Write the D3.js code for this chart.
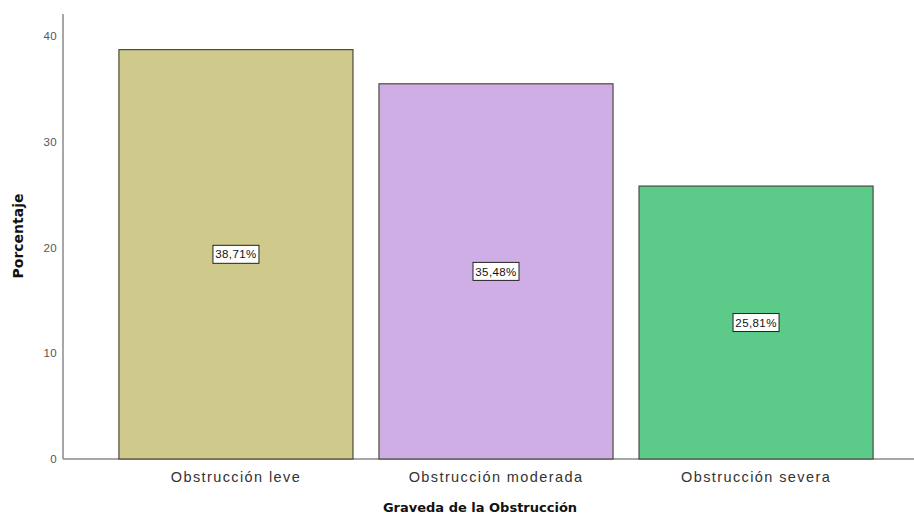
<!DOCTYPE html>
<html><head><meta charset="utf-8">
<script src="https://cdn.jsdelivr.net/npm/d3@7"></script>
<style>body{margin:0;background:#fff}svg{display:block}</style>
</head><body><svg id="c" width="914" height="522"></svg>
<script>
const categories = ["Obstrucción leve", "Obstrucción moderada", "Obstrucción severa"];
const values = [38.71, 35.48, 25.81];
const valueLabels = ["38,71%", "35,48%", "25,81%"];
const colors = ["#cfc98b", "#cfaee6", "#5ccb89"];
const yTicks = [0, 10, 20, 30, 40];
const xTitle = "Graveda de la Obstrucción";
const yTitle = "Porcentaje";

const svg = d3.select("#c");
const y = d3.scaleLinear().domain([0, 42.08]).range([459, 14]);
const x = d3.scaleBand().domain(categories).range([95, 897]).paddingInner(0.1).paddingOuter(0.092);

// axes lines
svg.append("line").attr("x1", 63).attr("x2", 914).attr("y1", y(0)).attr("y2", y(0))
  .attr("stroke", "#8a8a8a").attr("stroke-width", 1.5);
svg.append("line").attr("x1", 63).attr("x2", 63).attr("y1", y(0)).attr("y2", y.range()[1])
  .attr("stroke", "#8a8a8a").attr("stroke-width", 1.5);

// y tick labels
svg.append("g").selectAll("text").data(yTicks).join("text")
  .attr("x", 57).attr("y", d => y(d)).attr("dy", "0.35em").attr("text-anchor", "end")
  .attr("font-family", "Liberation Sans, Arial, sans-serif").attr("font-size", 11.5).attr("fill", "#555")
  .attr("letter-spacing", 0.3)
  .text(d => d);

// bars
svg.append("g").selectAll("rect").data(values).join("rect")
  .attr("x", (d, i) => x(categories[i])).attr("width", x.bandwidth())
  .attr("y", d => y(d)).attr("height", d => y(0) - y(d))
  .attr("fill", (d, i) => colors[i]).attr("stroke", "#4d4a3c").attr("stroke-width", 1.2);

// value labels
const lg = svg.append("g").selectAll("g").data(values).join("g")
  .attr("transform", (d, i) => `translate(${x(categories[i]) + x.bandwidth() / 2},${(y(d) + y(0)) / 2})`);
lg.append("rect").attr("x", -23).attr("y", -9).attr("width", 46).attr("height", 18)
  .attr("fill", "#fff").attr("stroke", "#222").attr("stroke-width", 1);
lg.append("text").attr("text-anchor", "middle").attr("dy", "0.36em")
  .attr("font-family", "Liberation Sans, Arial, sans-serif").attr("font-size", 11.5).attr("fill", "#111")
  .attr("letter-spacing", 0.4)
  .text((d, i) => valueLabels[i]);

// category labels
svg.append("g").selectAll("text").data(categories).join("text")
  .attr("x", d => x(d) + x.bandwidth() / 2).attr("y", 477).attr("dy", "0.35em")
  .attr("text-anchor", "middle").attr("font-family", "Liberation Sans, Arial, sans-serif")
  .attr("font-size", 14.5).attr("letter-spacing", 1.4).attr("fill", "#333").text(d => d);

// titles
svg.append("text").attr("x", 480).attr("y", 512).attr("text-anchor", "middle")
  .attr("font-family", "DejaVu Sans, sans-serif").attr("font-weight", "bold").attr("font-size", 13)
  .attr("fill", "#111").text(xTitle);
svg.append("text").attr("transform", "translate(23,236) rotate(-90)").attr("text-anchor", "middle")
  .attr("font-family", "DejaVu Sans, sans-serif").attr("font-weight", "bold").attr("font-size", 14)
  .attr("fill", "#111").text(yTitle);
</script></body></html>
